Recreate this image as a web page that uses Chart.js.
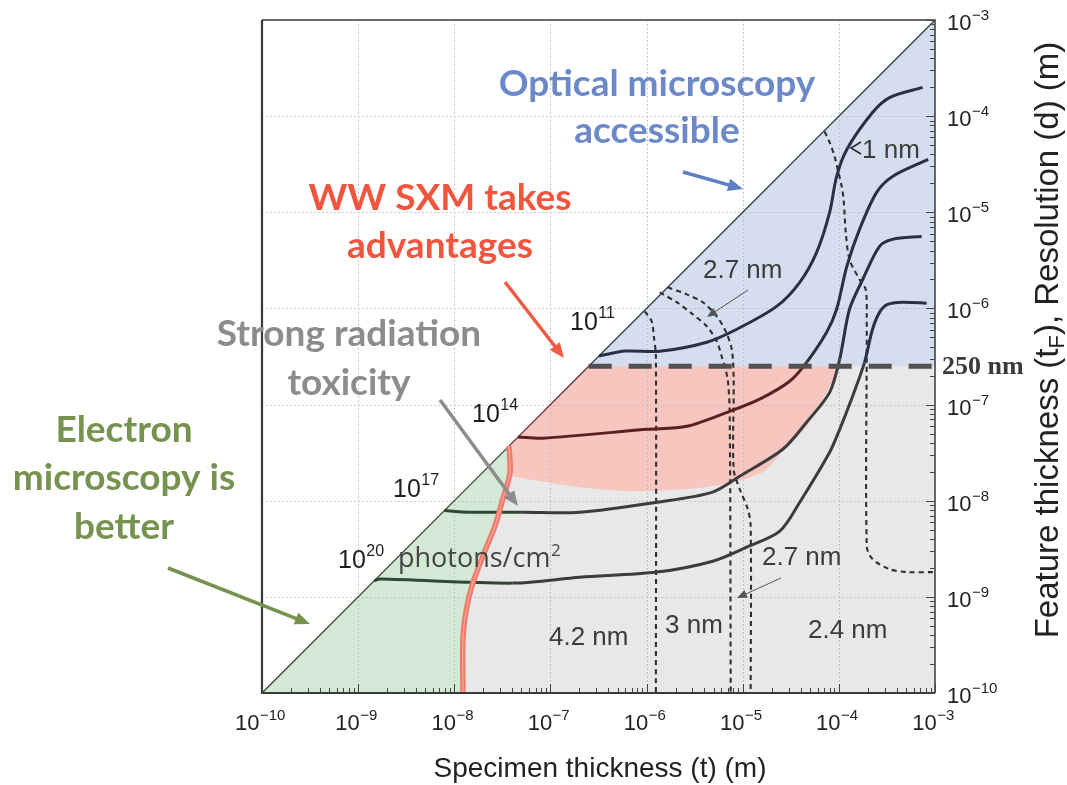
<!DOCTYPE html>
<html>
<head>
<meta charset="utf-8">
<script src="https://cdn.jsdelivr.net/npm/chart.js@4.4.1/dist/chart.umd.min.js"></script>
<style>
  html, body { margin: 0; padding: 0; background: #ffffff; }
  #wrap { width: 1067px; height: 785px; position: relative; }
</style>
</head>
<body>
<div id="wrap"><canvas id="chart" width="1067" height="785"></canvas></div>
<script>
// ---- axis decades (powers of ten) ----
const xDecades = [-10, -9, -8, -7, -6, -5, -4, -3];
const yDecades = [-10, -9, -8, -7, -6, -5, -4, -3];
const opticalLimit = 250e-9;           // 250 nm optical resolution limit

// ---- electron / soft x-ray boundary (bottom to top) ----
const redBoundary = [
  {x: 1.23e-8, y: 1e-10}, {x: 1.23e-8, y: 3.6e-10}, {x: 1.32e-8, y: 6.9e-10},
  {x: 1.52e-8, y: 1.29e-9}, {x: 1.98e-8, y: 2.65e-9}, {x: 2.64e-8, y: 5.4e-9},
  {x: 3.2e-8, y: 1.04e-8}, {x: 3.8e-8, y: 1.98e-8}, {x: 3.7e-8, y: 3.7e-8}
];

// ---- lower edge of the WW SXM advantage zone (left to right) ----
const advantageEdge = [
  {x: 3.8e-8, y: 1.8e-8}, {x: 9.2e-8, y: 1.56e-8}, {x: 3.03e-7, y: 1.32e-8},
  {x: 1.0e-6, y: 1.26e-8}, {x: 4.88e-6, y: 1.42e-8}, {x: 1.61e-5, y: 1.98e-8},
  {x: 2.43e-5, y: 3.04e-8}, {x: 4.62e-5, y: 5.94e-8}, {x: 7.46e-5, y: 1.34e-7},
  {x: 1.0e-4, y: 2.5e-7}
];

// ---- required dose curves (photons/cm^2) ----
const dose1e11 = [
  {x: 3.2e-7, y: 3.2e-7}, {x: 6.0e-7, y: 3.6e-7}, {x: 1.37e-6, y: 3.58e-7},
  {x: 4.23e-6, y: 4.45e-7}, {x: 8.67e-6, y: 6.07e-7}, {x: 2.25e-5, y: 1.05e-6},
  {x: 3.92e-5, y: 1.87e-6}, {x: 5.87e-5, y: 3.83e-6}, {x: 8.02e-5, y: 9.98e-6},
  {x: 9.48e-5, y: 2.36e-5}, {x: 1.21e-4, y: 4.51e-5}, {x: 2.24e-4, y: 1.09e-4},
  {x: 3.37e-4, y: 1.56e-4}, {x: 7.43e-4, y: 1.99e-4}
];
const dose1e14 = [
  {x: 4.6e-8, y: 4.6e-8}, {x: 8.34e-8, y: 4.47e-8}, {x: 1.0e-6, y: 5.53e-8},
  {x: 2.62e-6, y: 5.94e-8}, {x: 7.33e-6, y: 8.51e-8}, {x: 1.50e-5, y: 1.14e-7},
  {x: 3.08e-5, y: 1.75e-7}, {x: 4.62e-5, y: 2.75e-7}, {x: 7.46e-5, y: 5.65e-7},
  {x: 9.48e-5, y: 9.8e-7}, {x: 1.21e-4, y: 2.74e-6}, {x: 1.64e-4, y: 6.64e-6},
  {x: 2.47e-4, y: 1.61e-5}, {x: 3.62e-4, y: 2.36e-5}, {x: 8.5e-4, y: 3.55e-5}
];
const dose1e17 = [
  {x: 7.9e-9, y: 7.9e-9}, {x: 1.45e-8, y: 7.59e-9}, {x: 5.16e-8, y: 7.59e-9},
  {x: 2.02e-7, y: 7.59e-9}, {x: 1.28e-6, y: 9.64e-9}, {x: 4.88e-6, y: 1.23e-8},
  {x: 9.31e-6, y: 1.8e-8}, {x: 2.61e-5, y: 3.43e-8}, {x: 4.62e-5, y: 6.55e-8},
  {x: 8.02e-5, y: 1.34e-7}, {x: 1.02e-4, y: 2.96e-7}, {x: 1.29e-4, y: 9.8e-7},
  {x: 1.77e-4, y: 2.0e-6}, {x: 2.65e-4, y: 4.43e-6}, {x: 3.62e-4, y: 5.23e-6},
  {x: 7.26e-4, y: 5.61e-6}
];
const dose1e20 = [
  {x: 1.47e-9, y: 1.47e-9}, {x: 1.69e-9, y: 1.53e-9}, {x: 4.06e-8, y: 1.39e-9},
  {x: 2.02e-7, y: 1.6e-9}, {x: 1.28e-6, y: 1.81e-9}, {x: 4.88e-6, y: 2.35e-9},
  {x: 1.10e-5, y: 3.29e-9}, {x: 2.43e-5, y: 4.82e-9}, {x: 3.92e-5, y: 9.64e-9},
  {x: 8.02e-5, y: 3.19e-8}, {x: 1.02e-4, y: 5.53e-8}, {x: 1.39e-4, y: 1.22e-7},
  {x: 1.85e-4, y: 2.75e-7}, {x: 2.24e-4, y: 6.07e-7}, {x: 2.65e-4, y: 9.1e-7},
  {x: 3.21e-4, y: 1.1e-6}, {x: 4.60e-4, y: 1.16e-6}, {x: 8.18e-4, y: 1.13e-6}
];

// ---- resolution contours (dashed) ----
const res42 = [
  {x: 9.57e-7, y: 9.33e-7}, {x: 1.13e-6, y: 7.34e-7}, {x: 1.19e-6, y: 5.13e-7},
  {x: 1.25e-6, y: 3.18e-7}, {x: 1.25e-6, y: 1e-10}
];
const res30 = [
  {x: 1.37e-6, y: 1.47e-6}, {x: 2.06e-6, y: 1.16e-6}, {x: 3.02e-6, y: 8.69e-7},
  {x: 4.23e-6, y: 6.52e-7}, {x: 5.37e-6, y: 4.55e-7}, {x: 6.05e-6, y: 3.14e-7},
  {x: 6.98e-6, y: 1.83e-7}, {x: 7.33e-6, y: 7.03e-8}, {x: 7.5e-6, y: 1e-10}
];
const res27 = [
  {x: 1.66e-6, y: 1.66e-6}, {x: 2.62e-6, y: 1.40e-6}, {x: 3.84e-6, y: 1.16e-6},
  {x: 5.37e-6, y: 8.28e-7}, {x: 6.65e-6, y: 5.78e-7}, {x: 7.69e-6, y: 3.76e-7},
  {x: 8.05e-6, y: 1.83e-7}, {x: 8.05e-6, y: 2.12e-8}, {x: 9.31e-6, y: 1.32e-8},
  {x: 1.13e-5, y: 8.17e-9}, {x: 1.21e-5, y: 5.43e-9}, {x: 1.21e-5, y: 1e-10}
];
const res10 = [
  {x: 7.11e-5, y: 6.93e-5}, {x: 8.02e-5, y: 5.33e-5}, {x: 9.03e-5, y: 3.81e-5},
  {x: 9.72e-5, y: 2.79e-5}, {x: 1.07e-4, y: 1.86e-5}, {x: 1.12e-4, y: 1.36e-5},
  {x: 1.18e-4, y: 6.18e-6}, {x: 1.29e-4, y: 3.24e-6}, {x: 1.64e-4, y: 2.0e-6},
  {x: 1.90e-4, y: 1.58e-6}, {x: 1.95e-4, y: 8.28e-7}, {x: 1.95e-4, y: 3.36e-9},
  {x: 2.24e-4, y: 2.47e-9}, {x: 3.37e-4, y: 1.94e-9}, {x: 5.07e-4, y: 1.81e-9},
  {x: 1e-3, y: 1.81e-9}
];

// ---- region polygons built from the boundaries above ----
const xMin = Math.pow(10, xDecades[0]), xMax = Math.pow(10, xDecades[xDecades.length - 1]);
const yMin = Math.pow(10, yDecades[0]), yMax = Math.pow(10, yDecades[yDecades.length - 1]);
const redTop = redBoundary[redBoundary.length - 1];
const xrayRegion = [...redBoundary, {x: opticalLimit, y: opticalLimit},
  {x: xMax, y: opticalLimit}, {x: xMax, y: yMin}, redBoundary[0]];
const opticalRegion = [
  {x: opticalLimit, y: opticalLimit}, {x: xMax, y: yMax}, {x: xMax, y: opticalLimit},
  {x: opticalLimit, y: opticalLimit}
];
const emptyRegion = [{x: xMin, y: yMin}, {x: xMax, y: yMax}, {x: xMin, y: yMax}, {x: xMin, y: yMin}];
const electronRegion = [{x: xMin, y: yMin}, redTop,
  ...redBoundary.slice(0, -1).reverse(), {x: xMin, y: yMin}];
const diagonal = [{x: xMin, y: yMin}, redTop, {x: opticalLimit, y: opticalLimit}, {x: xMax, y: yMax}];
const opticalLine = [{x: opticalLimit, y: opticalLimit}, {x: 1.18e-3, y: opticalLimit}];

const NAVY = '#2a3044', GREEN_DK = '#2d4732';
function doseColor(low) {
  return ctx => {
    const a = ctx.p0.parsed, b = ctx.p1.parsed;
    const my = Math.sqrt(a.y * b.y), mx = Math.sqrt(a.x * b.x);
    if (my > opticalLimit) return NAVY;
    if (mx < 3.5e-8) return GREEN_DK;
    return low;
  };
}
function region(label, data, color, order) {
  return {label, data, showLine: true, pointRadius: 0, borderWidth: 0,
    borderColor: 'rgba(0,0,0,0)', backgroundColor: color, fill: 'shape', tension: 0, order};
}
function curve(label, data, low, order) {
  return {label, data, showLine: true, pointRadius: 0, borderWidth: 3, tension: 0.3,
    borderColor: NAVY, segment: {borderColor: doseColor(low)}, fill: false, order};
}
function contour(label, data) {
  return {label, data, showLine: true, pointRadius: 0, borderWidth: 2.1, tension: 0.3,
    borderColor: '#2f2f33', borderDash: [5, 4], fill: false, order: 6};
}

const datasets = [
  region('Soft x-ray', xrayRegion, '#e8e8e8', 15),
  {label: 'WW SXM advantage', data: advantageEdge, showLine: true, pointRadius: 0, borderWidth: 0,
   borderColor: 'rgba(0,0,0,0)', backgroundColor: '#f7c6bf', fill: 'end', tension: 0.35, order: 14},
  region('Optical microscopy accessible', opticalRegion, '#d5deee', 13),
  region('Inaccessible', emptyRegion, '#ffffff', 12),
  region('Electron microscopy', electronRegion, '#d3e9d5', 11),
  contour('4.2 nm', res42), contour('3 nm', res30), contour('2.7 nm', res27), contour('1 nm', res10),
  {label: 'diagonal', data: diagonal, showLine: true, pointRadius: 0, borderWidth: 1.3, fill: false,
   borderColor: '#333', order: 5,
   segment: {borderColor: c => ['#2d4a33', '#6b2a25', '#333a4a'][c.p0DataIndex]}},
  curve('1e11', dose1e11, NAVY, 4),
  curve('1e14', dose1e14, '#5a2020', 4),
  curve('1e17', dose1e17, '#3c3c3c', 4),
  curve('1e20', dose1e20, '#3c3c3c', 4),
  {label: 'boundary', data: redBoundary, showLine: true, pointRadius: 0, borderWidth: 5.5,
   tension: 0.3, borderColor: '#f07a6a', fill: false, order: 3},
  {label: 'boundary-core', data: redBoundary, showLine: true, pointRadius: 0, borderWidth: 1.4,
   tension: 0.3, borderColor: '#f6a294', fill: false, order: 2},
  {label: '250 nm', data: opticalLine, showLine: true, pointRadius: 0, borderWidth: 5,
   borderColor: '#505050', borderDash: [23, 17], fill: false, order: 1, clip: false}
];
const LAST_REGION = 4;

// ---- drawing helpers ----
function supText(ctx, x, y, base, exp, baseFont, expFont, rise, align, color) {
  ctx.font = baseFont; const wb = ctx.measureText(base).width;
  ctx.font = expFont; const we = ctx.measureText(exp).width;
  let x0 = x;
  if (align === 'center') x0 = x - (wb + we) / 2;
  else if (align === 'right') x0 = x - (wb + we);
  ctx.fillStyle = color; ctx.textAlign = 'left'; ctx.textBaseline = 'alphabetic';
  ctx.font = baseFont; ctx.fillText(base, x0, y);
  ctx.font = expFont; ctx.fillText(exp, x0 + wb + 0.5, y - rise);
}
function arrow(ctx, x1, y1, x2, y2, color, w, head) {
  const a = Math.atan2(y2 - y1, x2 - x1), c = Math.cos(a), s = Math.sin(a);
  ctx.strokeStyle = color; ctx.lineWidth = w; ctx.setLineDash([]);
  ctx.beginPath(); ctx.moveTo(x1, y1); ctx.lineTo(x2 - head * 0.7 * c, y2 - head * 0.7 * s); ctx.stroke();
  ctx.fillStyle = color; ctx.beginPath(); ctx.moveTo(x2, y2);
  ctx.lineTo(x2 - head * c + head * 0.42 * s, y2 - head * s - head * 0.42 * c);
  ctx.lineTo(x2 - head * c - head * 0.42 * s, y2 - head * s + head * 0.42 * c);
  ctx.closePath(); ctx.fill();
}
function centerText(ctx, txt, x, y, font, color) {
  ctx.font = font; ctx.fillStyle = color; ctx.textAlign = 'center'; ctx.textBaseline = 'alphabetic';
  ctx.fillText(txt, x, y);
}

const gridPlugin = {
  id: 'decadeGrid',
  afterDatasetDraw(chart, args) {
    if (args.index !== LAST_REGION) return;
    const {ctx, chartArea: a, scales: {x, y}} = chart;
    ctx.save();
    ctx.strokeStyle = '#b9b9b9'; ctx.lineWidth = 1; ctx.setLineDash([1.5, 2.5]);
    xDecades.slice(1, -1).forEach(k => {
      const px = Math.round(x.getPixelForValue(Math.pow(10, k))) + 0.5;
      ctx.beginPath(); ctx.moveTo(px, a.top); ctx.lineTo(px, a.bottom); ctx.stroke();
    });
    yDecades.slice(1, -1).forEach(k => {
      const py = Math.round(y.getPixelForValue(Math.pow(10, k))) + 0.5;
      ctx.beginPath(); ctx.moveTo(a.left, py); ctx.lineTo(a.right, py); ctx.stroke();
    });
    ctx.restore();
  }
};

const axesPlugin = {
  id: 'framedAxes',
  afterDraw(chart) {
    const {ctx, chartArea: a, scales: {x, y}} = chart;
    ctx.save();
    ctx.setLineDash([]);
    // frame
    ctx.strokeStyle = '#3a3a3a';
    ctx.lineWidth = 1.5;
    ctx.beginPath(); ctx.moveTo(a.left, a.top); ctx.lineTo(a.right, a.top); ctx.lineTo(a.right, a.bottom); ctx.stroke();
    ctx.lineWidth = 2.2;
    ctx.beginPath(); ctx.moveTo(a.left, a.top); ctx.lineTo(a.left, a.bottom); ctx.lineTo(a.right, a.bottom); ctx.stroke();
    // inward ticks
    ctx.lineWidth = 1; ctx.strokeStyle = '#444';
    xDecades.forEach((k, i) => {
      for (let m = 1; m <= 9; m++) {
        if (i === xDecades.length - 1 && m > 1) break;
        const px = Math.round(x.getPixelForValue(m * Math.pow(10, k))) + 0.5;
        const len = m === 1 ? 9 : 5;
        ctx.beginPath(); ctx.moveTo(px, a.bottom); ctx.lineTo(px, a.bottom - len); ctx.stroke();
      }
    });
    yDecades.forEach((k, i) => {
      for (let m = 1; m <= 9; m++) {
        if (i === yDecades.length - 1 && m > 1) break;
        const py = Math.round(y.getPixelForValue(m * Math.pow(10, k))) + 0.5;
        const len = m === 1 ? 9 : 5;
        ctx.beginPath(); ctx.moveTo(a.right, py); ctx.lineTo(a.right - len, py); ctx.stroke();
      }
    });
    // tick labels
    const tf = '22px "Liberation Sans", Arial, sans-serif', ef = '15px "Liberation Sans", Arial, sans-serif';
    xDecades.forEach(k => {
      supText(ctx, x.getPixelForValue(Math.pow(10, k)) - 2, a.bottom + 37, '10', '\u2212' + (-k), tf, ef, 10, 'center', '#222');
    });
    yDecades.forEach(k => {
      supText(ctx, a.right + 12, y.getPixelForValue(Math.pow(10, k)) + 10, '10', '\u2212' + (-k), tf, ef, 10, 'left', '#222');
    });
    // 250 nm marker label
    ctx.font = 'bold 26px "Liberation Serif", "Times New Roman", serif';
    ctx.fillStyle = '#3a3a3a'; ctx.textAlign = 'left'; ctx.textBaseline = 'middle';
    ctx.fillText('250 nm', a.right + 7, y.getPixelForValue(opticalLimit) + 1);
    // axis titles
    centerText(ctx, 'Specimen thickness (t) (m)', 600, 777, '28px "Liberation Sans", Arial, sans-serif', '#222');
    ctx.save();
    ctx.translate(1058, 340); ctx.rotate(-Math.PI / 2);
    const f1 = '33px "Liberation Sans", Arial, sans-serif', f2 = '22px "Liberation Sans", Arial, sans-serif';
    const p1 = 'Feature thickness (t', p2 = 'F', p3 = '), Resolution (d) (m)';
    ctx.font = f1; const w1 = ctx.measureText(p1).width, w3 = ctx.measureText(p3).width;
    ctx.font = f2; const w2 = ctx.measureText(p2).width;
    let sx = -(w1 + w2 + w3) / 2;
    ctx.fillStyle = '#222'; ctx.textAlign = 'left'; ctx.textBaseline = 'alphabetic';
    ctx.font = f1; ctx.fillText(p1, sx, 0); sx += w1;
    ctx.font = f2; ctx.fillText(p2, sx, 6); sx += w2;
    ctx.font = f1; ctx.fillText(p3, sx, 0);
    ctx.restore();

    // dose labels
    const df = '25px "Liberation Sans", Arial, sans-serif', dfe = '16px "Liberation Sans", Arial, sans-serif';
    supText(ctx, 570, 330, '10', '11', df, dfe, 12, 'left', '#1e1e1e');
    supText(ctx, 472, 422, '10', '14', df, dfe, 12, 'left', '#1e1e1e');
    supText(ctx, 393, 497, '10', '17', df, dfe, 12, 'left', '#1e1e1e');
    supText(ctx, 338, 568, '10', '20', df, dfe, 12, 'left', '#1e1e1e');
    supText(ctx, 398, 567, 'photons/cm', '2', '27px "Open Sans", sans-serif', '17px "Open Sans", sans-serif', 11, 'left', '#444');

    // resolution labels
    const nf = '26px "Liberation Sans", Arial, sans-serif', nc = '#3c3c3c';
    ctx.textAlign = 'left'; ctx.font = nf; ctx.fillStyle = nc; ctx.textBaseline = 'alphabetic';
    ctx.fillText('2.7 nm', 703, 278);
    ctx.fillText('1 nm', 862, 158);
    ctx.fillText('2.7 nm', 762, 565);
    ctx.fillText('4.2 nm', 549, 645);
    ctx.fillText('3 nm', 665, 633);
    ctx.fillText('2.4 nm', 808, 638);
    arrow(ctx, 748, 290, 707, 317, '#555', 1, 10);
    arrow(ctx, 781, 578, 737, 598, '#555', 1, 10);
    ctx.strokeStyle = '#2a2a2a'; ctx.lineWidth = 1.6;
    ctx.beginPath(); ctx.moveTo(861, 142); ctx.lineTo(851, 148); ctx.lineTo(861, 154); ctx.stroke();

    // call-outs
    const bf = 'bold 37px Lato, "Open Sans", sans-serif';
    centerText(ctx, 'Optical microscopy', 657, 96, bf, '#6b88c8');
    centerText(ctx, 'accessible', 657, 143, bf, '#6b88c8');
    arrow(ctx, 683, 172, 743, 189, '#5e7fc2', 3.5, 15);
    centerText(ctx, 'WW SXM takes', 440, 210, bf, '#f0553e');
    centerText(ctx, 'advantages', 440, 258, bf, '#f0553e');
    arrow(ctx, 505, 282, 564, 358, '#ee5a43', 3.5, 15);
    centerText(ctx, 'Strong radiation', 349, 346, bf, '#8c8c8c');
    centerText(ctx, 'toxicity', 349, 395, bf, '#8c8c8c');
    arrow(ctx, 440, 400, 518, 506, '#8c8c8c', 3.5, 15);
    centerText(ctx, 'Electron', 124, 442, bf, '#76924f');
    centerText(ctx, 'microscopy is', 124, 490, bf, '#76924f');
    centerText(ctx, 'better', 124, 539, bf, '#76924f');
    arrow(ctx, 168, 568, 310, 624, '#76924f', 3.5, 15);
    ctx.restore();
  }
};

new Chart(document.getElementById('chart'), {
  type: 'scatter',
  data: {datasets},
  options: {
    responsive: false,
    devicePixelRatio: 1,
    animation: false,
    events: [],
    layout: {padding: {left: 262, right: 132, top: 20, bottom: 92}},
    scales: {
      x: {type: 'logarithmic', min: xMin, max: xMax, display: false},
      y: {type: 'logarithmic', min: yMin, max: yMax, display: false}
    },
    plugins: {legend: {display: false}, tooltip: {enabled: false}}
  },
  plugins: [gridPlugin, axesPlugin]
});
</script>
</body>
</html>
